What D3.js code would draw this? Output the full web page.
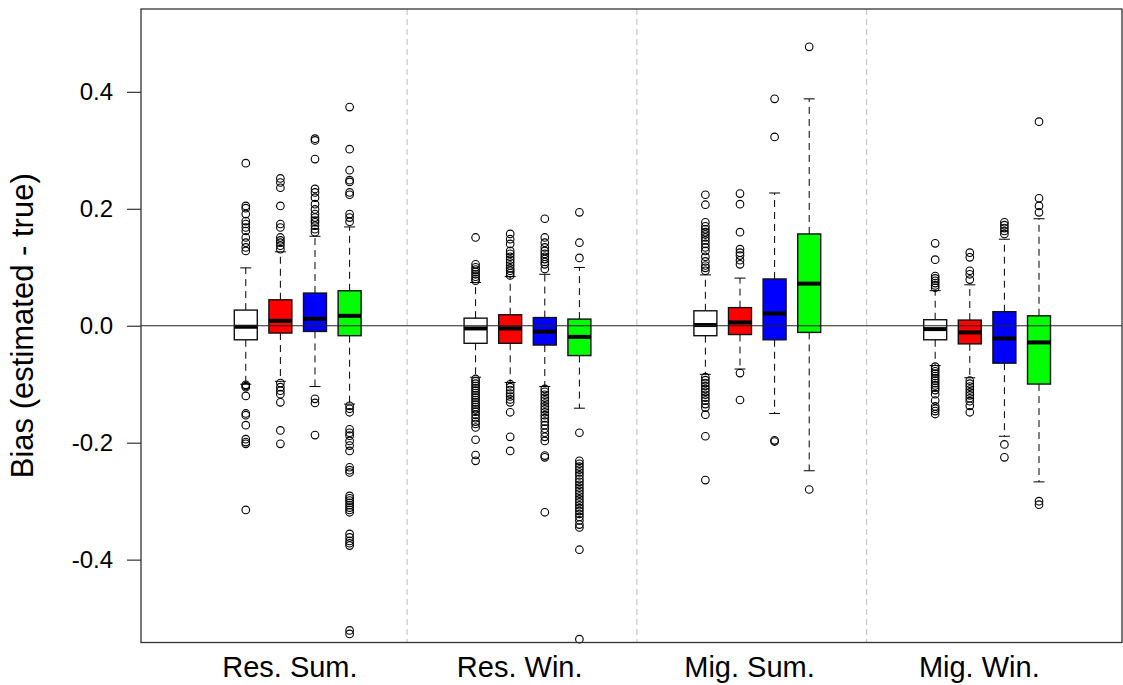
<!DOCTYPE html>
<html>
<head>
<meta charset="utf-8">
<script src="https://cdn.jsdelivr.net/npm/d3@7"></script>
<style>
  body { margin: 0; background: #fff; }
  text { font-family: "Liberation Sans", Arial, sans-serif; fill: #000; }
</style>
</head>
<body>
<div id="chart"></div>
<script>
// Bias boxplots: 4 scenarios x 4 methods
const groups = ["Res. Sum.", "Res. Win.", "Mig. Sum.", "Mig. Win."];
const series = ["M1", "M2", "M3", "M4"];
const yTicks = [-0.4, -0.2, 0.0, 0.2, 0.4];

// box stats, [group][series]
const whiskerLow = [
  [-0.100, -0.095, -0.104, -0.134],
  [-0.088, -0.097, -0.104, -0.141],
  [-0.083, -0.074, -0.150, -0.248],
  [-0.068, -0.089, -0.189, -0.267]
];
const q1 = [
  [-0.024, -0.0125, -0.0097, -0.017],
  [-0.030, -0.030, -0.033, -0.051],
  [-0.017, -0.015, -0.024, -0.0114],
  [-0.024, -0.031, -0.064, -0.0997]
];
const median = [
  [-0.0017, 0.0085, 0.012, 0.017],
  [-0.0046, -0.0046, -0.010, -0.019],
  [0.0012, 0.0057, 0.021, 0.072],
  [-0.0057, -0.0114, -0.0217, -0.0285]
];
const q3 = [
  [0.0268, 0.0444, 0.0559, 0.0598],
  [0.013, 0.0188, 0.014, 0.0114],
  [0.0256, 0.031, 0.080, 0.157],
  [0.0103, 0.0097, 0.024, 0.017]
];
const whiskerHigh = [
  [0.099, 0.1265, 0.153, 0.169],
  [0.074, 0.084, 0.088, 0.0997],
  [0.087, 0.0815, 0.227, 0.388],
  [0.060, 0.070, 0.148, 0.183]
];

// outliers per group, one list per series
const outResSum = [
  [0.278, 0.205, 0.201, 0.191, 0.179, 0.174, 0.168, 0.162, 0.151, 0.142, 0.134, 0.128,
   -0.101, -0.103, -0.105, -0.120, -0.150, -0.153, -0.170, -0.194, -0.199, -0.202, -0.315],
  [0.252, 0.245, 0.236, 0.205, 0.174, 0.168, 0.151, 0.146, 0.142, 0.137, 0.131,
   -0.098, -0.105, -0.111, -0.117, -0.131, -0.179, -0.202],
  [0.320, 0.317, 0.285, 0.234, 0.228, 0.219, 0.208, 0.199, 0.191, 0.185, 0.180, 0.177, 0.171, 0.165, 0.160,
   -0.125, -0.132, -0.187],
  [0.374, 0.302, 0.266, 0.249, 0.246, 0.228, 0.224, 0.191, 0.185, 0.178,
   -0.137, -0.142, -0.148, -0.177, -0.183, -0.188, -0.197, -0.205, -0.214, -0.242, -0.247, -0.251,
   -0.291, -0.295, -0.299, -0.303, -0.307, -0.311, -0.315, -0.319, -0.356, -0.362, -0.368, -0.372, -0.376,
   -0.521, -0.527]
];
const outResWin = [
  [0.151, 0.105, 0.100, 0.096, 0.092, 0.088, 0.084, 0.080, 0.077,
   -0.091, -0.095, -0.099, -0.103, -0.107, -0.111, -0.115, -0.119, -0.123, -0.127, -0.131, -0.135,
   -0.139, -0.143, -0.147, -0.152, -0.158, -0.164, -0.168, -0.174, -0.195, -0.221, -0.231],
  [0.157, 0.148, 0.140, 0.128, 0.123, 0.118, 0.113, 0.108, 0.103, 0.098, 0.094, 0.090, 0.086,
   -0.100, -0.105, -0.110, -0.116, -0.121, -0.126, -0.131, -0.148, -0.190, -0.214],
  [0.183, 0.151, 0.142, 0.134, 0.128, 0.123, 0.118, 0.114, 0.109, 0.105, 0.097,
   -0.108, -0.113, -0.118, -0.123, -0.128, -0.133, -0.138, -0.143, -0.148, -0.153, -0.158, -0.164,
   -0.170, -0.176, -0.183, -0.190, -0.197, -0.222, -0.225, -0.319],
  [0.194, 0.142, 0.116,
   -0.183, -0.231, -0.236, -0.241, -0.246, -0.251, -0.256, -0.262, -0.267, -0.272, -0.277, -0.282,
   -0.287, -0.292, -0.297, -0.302, -0.307, -0.312, -0.317, -0.322, -0.327, -0.333, -0.340, -0.345,
   -0.383, -0.536]
];
const outMigSum = [
  [0.224, 0.207, 0.177, 0.170, 0.165, 0.160, 0.156, 0.151, 0.146, 0.140, 0.134, 0.128, 0.118, 0.110,
   0.103, 0.099, 0.094,
   -0.088, -0.093, -0.098, -0.103, -0.108, -0.113, -0.118, -0.123, -0.128, -0.134, -0.140, -0.152,
   -0.189, -0.264],
  [0.226, 0.208, 0.160, 0.131, 0.125, 0.120, 0.112, 0.105, -0.081, -0.127],
  [0.388, 0.323, -0.196, -0.198],
  [0.477, -0.280]
];
const outMigWin = [
  [0.141, 0.113, 0.085, 0.081, 0.077, 0.073, 0.069, 0.065,
   -0.070, -0.074, -0.078, -0.082, -0.086, -0.090, -0.094, -0.098, -0.102, -0.106, -0.110,
   -0.117, -0.128, -0.138, -0.142, -0.146, -0.151],
  [0.125, 0.117, 0.094, 0.088, 0.079,
   -0.094, -0.099, -0.104, -0.109, -0.114, -0.119, -0.124, -0.129, -0.137, -0.148],
  [0.177, 0.172, 0.167, 0.162, 0.157, -0.203, -0.225],
  [0.349, 0.218, 0.205, 0.194, -0.300, -0.306]
];
const outliers = [outResSum, outResWin, outMigSum, outMigWin];

const W = 1123, H = 685;
const plot = { left: 141, right: 1122, top: 9, bottom: 642.5 };

const svg = d3.select("#chart").append("svg").attr("width", W).attr("height", H);

// each group occupies one unit on x
const x = d3.scaleLinear().domain([0, 1]).range([177.3, 407.1]);
const y = d3.scaleLinear().domain([-0.5417, 0.5417]).range([plot.bottom, plot.top]);
const color = d3.scaleOrdinal().domain(series).range(["#ffffff", "#ff0000", "#0000ff", "#00ff00"]);

const boxOffset = j => 0.298 + 0.1506 * j;
const halfW = 0.05, capW = 0.024;

// separators between groups
svg.append("g").selectAll("line").data(d3.range(1, groups.length)).join("line")
  .attr("x1", d => x(d)).attr("x2", d => x(d))
  .attr("y1", plot.top).attr("y2", plot.bottom)
  .attr("stroke", "#bdbdbd").attr("stroke-dasharray", "6,4").attr("stroke-width", 1);

// flatten to one record per box
const boxes = [];
groups.forEach((g, i) => series.forEach((s, j) => boxes.push({
  g: i, s, pos: i + boxOffset(j),
  lo: whiskerLow[i][j], q1: q1[i][j], med: median[i][j], q3: q3[i][j], hi: whiskerHigh[i][j],
  out: outliers[i][j]
})));

const bg = svg.append("g").selectAll("g").data(boxes).join("g");

// whiskers (dashed) + caps
bg.append("line")
  .attr("x1", d => x(d.pos)).attr("x2", d => x(d.pos))
  .attr("y1", d => y(d.q3)).attr("y2", d => y(d.hi))
  .attr("stroke", "#000").attr("stroke-dasharray", "7,5");
bg.append("line")
  .attr("x1", d => x(d.pos)).attr("x2", d => x(d.pos))
  .attr("y1", d => y(d.q1)).attr("y2", d => y(d.lo))
  .attr("stroke", "#000").attr("stroke-dasharray", "7,5");
bg.selectAll(".cap").data(d => [d.lo, d.hi].map(v => ({ pos: d.pos, v }))).join("line")
  .attr("class", "cap")
  .attr("x1", d => x(d.pos - capW)).attr("x2", d => x(d.pos + capW))
  .attr("y1", d => y(d.v)).attr("y2", d => y(d.v))
  .attr("stroke", "#000");

// box
bg.append("rect")
  .attr("x", d => x(d.pos - halfW)).attr("width", d => x(d.pos + halfW) - x(d.pos - halfW))
  .attr("y", d => y(d.q3)).attr("height", d => y(d.q1) - y(d.q3))
  .attr("fill", d => color(d.s)).attr("stroke", "#111").attr("stroke-width", 1.4);

// median
bg.append("line")
  .attr("x1", d => x(d.pos - halfW)).attr("x2", d => x(d.pos + halfW))
  .attr("y1", d => y(d.med)).attr("y2", d => y(d.med))
  .attr("stroke", "#000").attr("stroke-width", 4);

// outliers
bg.selectAll("circle").data(d => d.out.map(v => ({ pos: d.pos, v }))).join("circle")
  .attr("cx", d => x(d.pos)).attr("cy", d => y(d.v)).attr("r", 3.8)
  .attr("fill", "none").attr("stroke", "#000").attr("stroke-width", 1.1);

// zero reference line
svg.append("line")
  .attr("x1", plot.left).attr("x2", plot.right)
  .attr("y1", y(0)).attr("y2", y(0))
  .attr("stroke", "#222").attr("stroke-width", 1.2);

// frame
svg.append("rect")
  .attr("x", plot.left).attr("y", plot.top)
  .attr("width", plot.right - plot.left).attr("height", plot.bottom - plot.top)
  .attr("fill", "none").attr("stroke", "#333").attr("stroke-width", 1.3);

// y axis
const yAxis = svg.append("g").attr("transform", `translate(${plot.left},0)`)
  .call(d3.axisLeft(y).tickValues(yTicks).tickFormat(d3.format(".1f")).tickSize(14).tickPadding(14));
yAxis.select(".domain").remove();
yAxis.selectAll(".tick line").attr("stroke", "#333").attr("stroke-width", 1.2);
yAxis.selectAll(".tick text").attr("font-size", 24)
  .text(d => d3.format(".1f")(d).replace("−", "-"));

// group labels
svg.append("g").selectAll("text").data(groups).join("text")
  .attr("x", (d, i) => x(i + 0.49)).attr("y", 677)
  .attr("text-anchor", "middle").attr("font-size", 29)
  .text(d => d);

// y title
svg.append("text")
  .attr("transform", `translate(33,${y(0)}) rotate(-90)`)
  .attr("text-anchor", "middle").attr("font-size", 31)
  .text("Bias (estimated - true)");
</script>
</body>
</html>
